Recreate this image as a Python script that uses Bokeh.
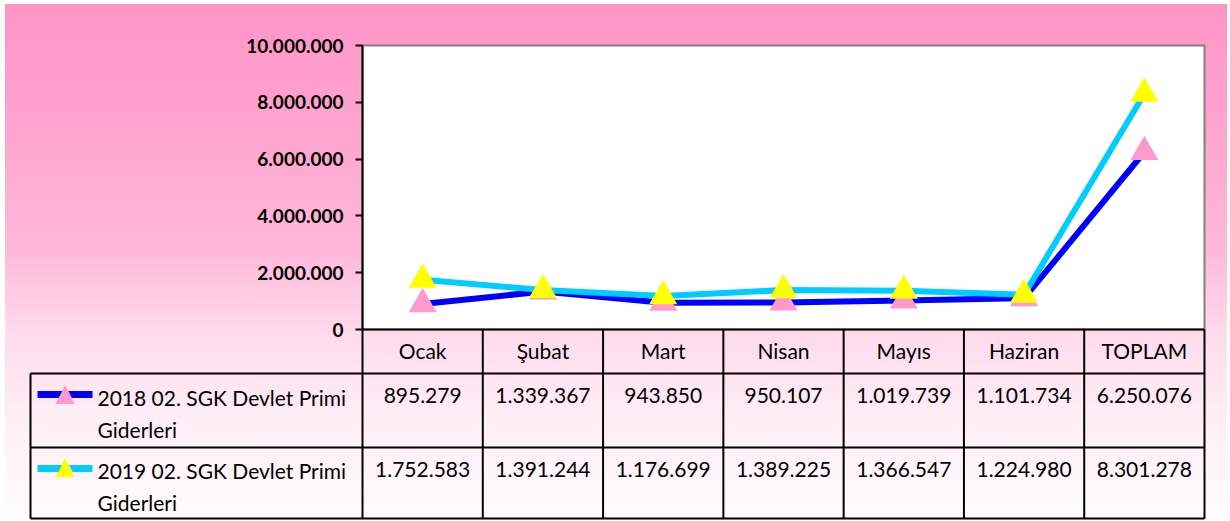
from bokeh.plotting import figure
from bokeh.models import FactorRange, Range1d, CustomJSTickFormatter, InlineStyleSheet, ColumnDataSource
from bokeh.core.properties import value
from bokeh.embed import file_html
from bokeh.resources import INLINE

# ---------------- data ----------------
months = ["Ocak", "Şubat", "Mart", "Nisan", "Mayıs", "Haziran", "TOPLAM"]
values_2018 = [895279, 1339367, 943850, 950107, 1019739, 1101734, 6250076]
values_2019 = [1752583, 1391244, 1176699, 1389225, 1366547, 1224980, 8301278]
series_names = ["2018 02. SGK Devlet Primi Giderleri", "2019 02. SGK Devlet Primi Giderleri"]
y_ticks = [0, 2000000, 4000000, 6000000, 8000000, 10000000]

# ---------------- styles ----------------
LINE_COLORS = ["#0000FF", "#00CCFF"]
MARKER_COLORS = ["#FF99CC", "#FFFF00"]
FONT = "Lato"

W, H = 1227, 521
FL, FT, FR, FB = 362, 45, 1204, 329   # frame edges in canvas px
Y_MAX = 10000000

p = figure(width=W, height=H, x_range=FactorRange(*months), y_range=Range1d(0, Y_MAX),
           output_backend="svg", toolbar_location=None,
           min_border_left=FL, min_border_right=W - FR, min_border_top=FT, min_border_bottom=H - FB)

p.border_fill_color = None
p.background_fill_color = "white"
p.outline_line_color = "#808080"
p.outline_line_width = 2
p.xgrid.visible = False
p.ygrid.visible = False
p.stylesheets = [InlineStyleSheet(css=(
    ":host { background: linear-gradient(90deg, white 0px, white 5px, transparent 5px), "
    "linear-gradient(180deg, white 0px, white 4px, #FF94C6 4px, #FFA8D0 30%, #FFB8DA 48%, "
    "#FFD9EA 63%, #FFEEF5 80%, #FFFCFE 100%); }"))]

# y axis
p.yaxis.ticker = y_ticks
p.yaxis.formatter = CustomJSTickFormatter(code="return Math.round(tick).toString().replace(/\\B(?=(\\d{3})+(?!\\d))/g, '.');")
p.yaxis.major_label_text_font = FONT
p.yaxis.major_label_text_font_style = "bold"
p.yaxis.major_label_text_font_size = "19px"
p.yaxis.major_label_text_color = "black"
p.yaxis.axis_line_color = "black"
p.yaxis.axis_line_width = 2
p.yaxis.major_tick_line_color = "black"
p.yaxis.major_tick_line_width = 2
p.yaxis.major_tick_out = 7
p.yaxis.major_tick_in = 0
p.yaxis.minor_tick_line_color = None
p.yaxis.major_label_standoff = 12

# x axis = header row of the table
p.xaxis.axis_line_color = "black"
p.xaxis.axis_line_width = 2
p.xaxis.major_tick_line_color = None
p.xaxis.minor_tick_line_color = None
p.xaxis.major_label_text_font = FONT
p.xaxis.major_label_text_font_size = "21px"
p.xaxis.major_label_text_color = "black"
p.xaxis.major_label_standoff = 2

# ---------------- series ----------------
for vals, lc, mc in zip([values_2018, values_2019], LINE_COLORS, MARKER_COLORS):
    src = ColumnDataSource(dict(x=months, y=vals))
    p.line("x", "y", source=src, line_color=lc, line_width=6, line_join="round")
    p.scatter("x", "y", source=src, marker="triangle", size=28, fill_color=mc, line_color=None)

# ---------------- data table below the chart ----------------
n = len(months)
col_w = (FR - FL) / n
px_per_unit = (FB - FT) / Y_MAX

def X(cx):  # canvas px -> synthetic x
    return (cx - FL) / col_w

def Y(cy):  # canvas px -> data y
    return (FB - cy) / px_per_unit

rows_top = [373, 447]
rows_bottom = 518
legend_left = 30

x0, y0, x1, y1 = [], [], [], []
for ry in rows_top + [rows_bottom]:
    x0.append(X(legend_left)); x1.append(X(FR)); y0.append(Y(ry)); y1.append(Y(ry))
x0.append(X(legend_left)); x1.append(X(legend_left)); y0.append(Y(rows_top[0])); y1.append(Y(rows_bottom))
for k in range(n + 1):
    x0.append(k); x1.append(k); y0.append(0); y1.append(Y(rows_bottom))
p.segment(x0=x0, y0=y0, x1=x1, y1=y1, line_color="black", line_width=2, level="overlay")

def fmt(v):
    return f"{v:,}".replace(",", ".")

SHIFT = 9
val_baselines = [404 - SHIFT, 478 - SHIFT]
leg_baselines = [(406 - SHIFT, 438 - SHIFT), (479 - SHIFT, 511 - SHIFT)]
key_y = [394, 468]
tri_y = [392, 465]
for i, vals in enumerate([values_2018, values_2019]):
    p.text(x=months, y=[Y(val_baselines[i])] * n, text=[fmt(v) for v in vals],
           text_font=value(FONT), text_font_size="21px", text_color="black",
           text_align="center", text_baseline="alphabetic", level="overlay")
    first, second = series_names[i].rsplit(" ", 1)
    p.text(x=[X(97), X(97)], y=[Y(leg_baselines[i][0]), Y(leg_baselines[i][1])], text=[first, second],
           text_font=value(FONT), text_font_size="21px", text_color="black",
           text_align="left", text_baseline="alphabetic", level="overlay")
    p.segment(x0=[X(37)], y0=[Y(key_y[i])], x1=[X(92)], y1=[Y(key_y[i])],
              line_color=LINE_COLORS[i], line_width=7, level="overlay")
    p.text(x=[X(64.5)], y=[Y(tri_y[i])], text=["\u25B2"],
           text_font=value("DejaVu Sans"), text_font_size="25px", text_color=MARKER_COLORS[i],
           text_align="center", text_baseline="alphabetic", level="overlay")

open("out.html", "w").write(file_html(p, INLINE))
